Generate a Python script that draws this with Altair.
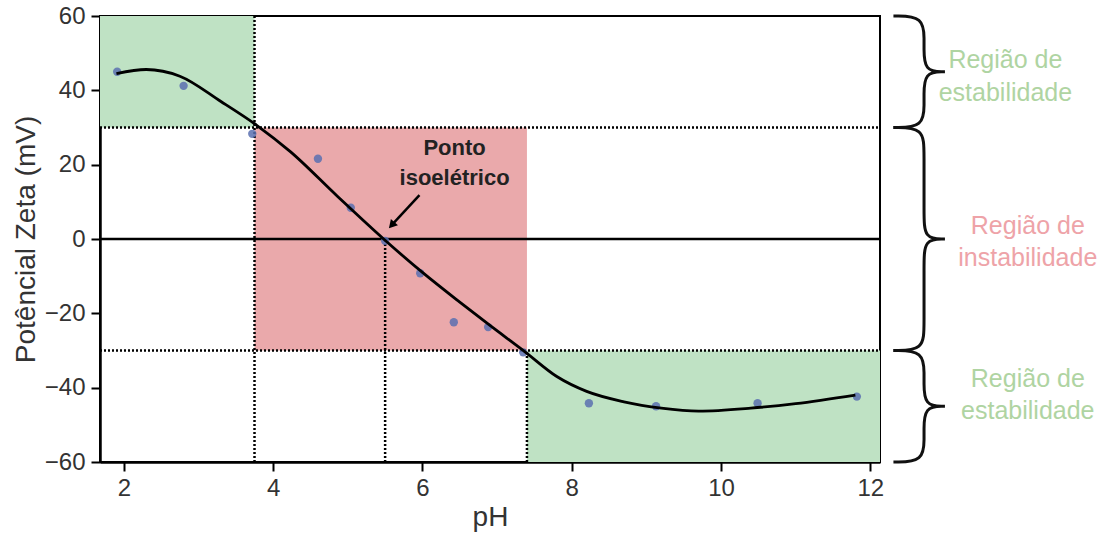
import altair as alt
import pandas as pd

# ---------------- data ----------------
ph_points = [1.91, 2.80, 3.72, 4.60, 5.04, 5.50, 5.97, 6.42, 6.88, 7.35, 8.23, 9.13, 10.49, 11.82]
zeta_points = [45.0, 41.2, 28.3, 21.6, 8.4, -0.5, -9.2, -22.4, -23.7, -30.5, -44.2, -45.0, -44.2, -42.4]

curve_ph = [1.9, 2.3, 2.75, 3.3, 3.78, 4.23, 4.86, 5.48, 6.0, 6.5, 6.9, 7.37, 7.8, 8.2, 8.7, 9.2, 9.7, 10.4, 11.0, 11.8]
curve_zeta = [44.5, 45.6, 43.8, 37.0, 30.6, 23.5, 11.5, 0.0, -9.0, -17.0, -23.2, -30.3, -37.0, -41.0, -43.8, -45.5, -46.3, -45.5, -44.3, -42.0]

x_min, x_max = 1.68, 12.13
y_min, y_max = -60, 60
x_ticks = [2, 4, 6, 8, 10, 12]
y_ticks = [-60, -40, -20, 0, 20, 40, 60]

region_x0 = [x_min, 3.75, 7.4]
region_x1 = [3.75, 7.4, x_max]
region_y0 = [30, -30, -60]
region_y1 = [60, 30, -30]
region_fill = ["#bfe2c4", "#eaa9ab", "#bfe2c4"]

vline_x = [3.75, 5.5, 7.4]
vline_top = [60, 0, -30]
hline_y = [30, -30]

ann_text = ["Ponto", "isoelétrico"]
ann_x = [6.43, 6.43]
ann_y = [24.5, 16.4]
arrow_from = (5.96, 11.8)
arrow_head = (5.60, 4.0)

brace_top = [60, 30, -30]
brace_bottom = [30, -30, -60]

side_text = ["Região de", "estabilidade", "Região de", "instabilidade", "Região de", "estabilidade"]
side_x = [13.81, 13.81, 14.11, 14.11, 14.11, 14.11]
side_y = [48.2, 39.3, 3.5, -5.1, -37.7, -46.3]
side_color = ["#afd4a2", "#afd4a2", "#eea3a8", "#eea3a8", "#afd4a2", "#afd4a2"]

FONT = "Liberation Sans"

# ---------------- frames ----------------
regions = pd.DataFrame({"x": region_x0, "x2": region_x1, "y": region_y0, "y2": region_y1, "c": region_fill})
vlines = pd.DataFrame({"x": vline_x, "y": [y_min] * len(vline_x), "y2": vline_top})
hlines = pd.DataFrame({"y": hline_y, "x": [x_min] * len(hline_y), "x2": [x_max] * len(hline_y)})
zero = pd.DataFrame({"y": [0], "x": [x_min], "x2": [x_max]})
pts = pd.DataFrame({"x": ph_points, "y": zeta_points})
curve = pd.DataFrame({"x": curve_ph, "y": curve_zeta, "o": list(range(len(curve_ph)))})
ann = pd.DataFrame({"x": ann_x, "y": ann_y, "t": ann_text})
arrow = pd.DataFrame({"x": [arrow_from[0]], "y": [arrow_from[1]], "x2": [arrow_head[0]], "y2": [arrow_head[1]]})
head = pd.DataFrame({"x": [arrow_head[0]], "y": [arrow_head[1]]})
side = pd.DataFrame({"x": side_x, "y": side_y, "t": side_text, "c": side_color})

# brace outlines built from the region bounds
bx0, bxs, bxt, br = 12.31, 12.72, 13.0, 7.0
rows = []
for i, (t, b) in enumerate(zip(brace_top, brace_bottom)):
    m = (t + b) / 2
    seq = [(bx0, t), (bxs, t), (bxs, t - br), (bxs, m + br), (bxs, m),
           (bxt, m), (bxt, m), (bxt, m),
           (bxs, m), (bxs, m - br), (bxs, b + br), (bxs, b), (bx0, b)]
    for k, (px, py) in enumerate(seq):
        rows.append({"x": px, "y": py, "o": k, "g": i})
braces = pd.DataFrame(rows)

xscale = alt.Scale(domain=[x_min, x_max], nice=False, zero=False)
yscale = alt.Scale(domain=[y_min, y_max], nice=False, zero=False)
xaxis = alt.Axis(title="pH", values=x_ticks, grid=False)
yaxis = alt.Axis(title="Potêncial Zeta (mV)", values=y_ticks, grid=False)


def X(f="x"):
    return alt.X(f"{f}:Q", scale=xscale, axis=xaxis)


def Y(f="y"):
    return alt.Y(f"{f}:Q", scale=yscale, axis=yaxis)


rect_layer = alt.Chart(regions).mark_rect(stroke=None).encode(
    x=X(), x2="x2:Q", y=Y(), y2="y2:Q", color=alt.Color("c:N", scale=None)
)
vline_layer = alt.Chart(vlines).mark_rule(color="black", strokeWidth=2.5, strokeDash=[2, 2]).encode(
    x=X(), y=Y(), y2="y2:Q"
)
hline_layer = alt.Chart(hlines).mark_rule(color="black", strokeWidth=2.5, strokeDash=[2, 2]).encode(
    x=X(), x2="x2:Q", y=Y()
)
zero_layer = alt.Chart(zero).mark_rule(color="black", strokeWidth=2.5).encode(
    x=X(), x2="x2:Q", y=Y()
)
point_layer = alt.Chart(pts).mark_circle(size=70, color="#5a70b0", opacity=0.85).encode(x=X(), y=Y())
curve_layer = alt.Chart(curve).mark_line(color="black", strokeWidth=2.8, interpolate="monotone").encode(
    x=X(), y=Y(), order="o:Q"
)
ann_layer = alt.Chart(ann).mark_text(font=FONT, fontSize=22, fontWeight="bold", color="#222").encode(
    x=X(), y=Y(), text="t:N"
)
arrow_layer = alt.Chart(arrow).mark_rule(color="black", strokeWidth=2.5).encode(
    x=X(), y=Y(), x2="x2:Q", y2="y2:Q"
)
head_layer = alt.Chart(head).mark_point(shape="triangle", filled=True, size=90, angle=222, color="black", opacity=1).encode(
    x=X(), y=Y()
)
brace_layer = alt.Chart(braces).mark_line(color="#111", strokeWidth=3, interpolate="basis").encode(
    x=X(), y=Y(), order="o:Q", detail="g:N"
)
side_layer = alt.Chart(side).mark_text(font=FONT, fontSize=25).encode(
    x=X(), y=Y(), text="t:N", color=alt.Color("c:N", scale=None)
)

chart = alt.layer(
    rect_layer, vline_layer, hline_layer, zero_layer, point_layer, curve_layer,
    ann_layer, arrow_layer, head_layer, brace_layer, side_layer
).properties(
    width=780, height=446,
    autosize=alt.AutoSizeParams(type="none"),
    padding={"left": 100, "top": 16, "right": 225, "bottom": 78},
    background="white",
).configure_view(
    stroke="black", strokeWidth=2
).configure_axis(
    domainColor="black", domainWidth=2.5, tickColor="black", tickWidth=2, tickSize=9,
    labelFont=FONT, labelFontSize=24, labelColor="#333",
    titleFont=FONT, titleFontSize=28, titleFontWeight="normal", titleColor="#333",
    grid=False,
).configure_axisX(labelPadding=5, titlePadding=3).configure_axisY(labelPadding=6, titlePadding=4)

chart.save("out.html", embed_options={"renderer": "svg", "actions": False})
